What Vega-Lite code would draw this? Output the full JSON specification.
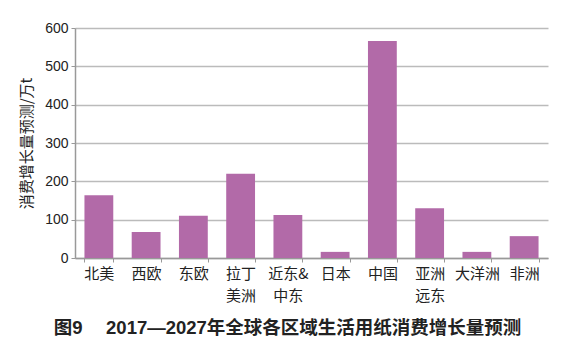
{
  "$schema": "https://vega.github.io/schema/vega-lite/v6.json",
  "autosize": "none",
  "width": 473,
  "height": 230,
  "padding": {"left": 75, "top": 28, "right": 21, "bottom": 94},
  "background": "white",
  "config": {"font": "Liberation Sans, Noto Sans CJK SC", "view": {"stroke": null}},
  "title": {
    "text": "图9\u3000 2017—2027年全球各区域生活用纸消费增长量预测",
    "orient": "bottom",
    "anchor": "middle",
    "fontSize": 18.5,
    "fontWeight": "bold",
    "color": "#222",
    "offset": 16,
    "dx": -24,
    "font": "Liberation Sans, Noto Sans CJK SC"
  },
  "data": {
    "values": [
      {"region": "北美", "value": 164},
      {"region": "西欧", "value": 68},
      {"region": "东欧", "value": 110},
      {"region": "拉丁美洲", "value": 220},
      {"region": "近东&中东", "value": 112},
      {"region": "日本", "value": 16},
      {"region": "中国", "value": 566},
      {"region": "亚洲远东", "value": 130},
      {"region": "大洋洲", "value": 16},
      {"region": "非洲", "value": 57}
    ]
  },
  "mark": {"type": "bar", "color": "#b26aa8"},
  "encoding": {
    "x": {
      "field": "region",
      "type": "nominal",
      "sort": null,
      "scale": {"paddingInner": 0.39, "paddingOuter": 0.2},
      "axis": {
        "title": null,
        "labelAngle": 0,
        "labelFontSize": 15,
        "labelColor": "#222",
        "labelFont": "Noto Sans CJK SC",
        "labelLineHeight": 22,
        "labelPadding": 4,
        "labelExpr": "datum.value == '拉丁美洲' ? ['拉丁','美洲'] : datum.value == '近东&中东' ? ['近东&','中东'] : datum.value == '亚洲远东' ? ['亚洲','远东'] : datum.value",
        "tickBand": "extent",
        "tickSize": 4,
        "tickColor": "#999",
        "domainColor": "#999",
        "domainWidth": 1.5
      }
    },
    "y": {
      "field": "value",
      "type": "quantitative",
      "scale": {"domain": [0, 600]},
      "axis": {
        "title": "消费增长量预测/万t",
        "titleFontSize": 15,
        "titleFont": "Noto Sans CJK SC",
        "titleFontWeight": "normal",
        "titleColor": "#222",
        "titlePadding": 10,
        "values": [0, 100, 200, 300, 400, 500, 600],
        "labelFontSize": 14,
        "labelColor": "#222",
        "labelPadding": 3,
        "tickSize": 4,
        "tickColor": "#999",
        "domainColor": "#999",
        "domainWidth": 1.5,
        "gridColor": "#bbb",
        "gridWidth": 1.5
      }
    }
  }
}
